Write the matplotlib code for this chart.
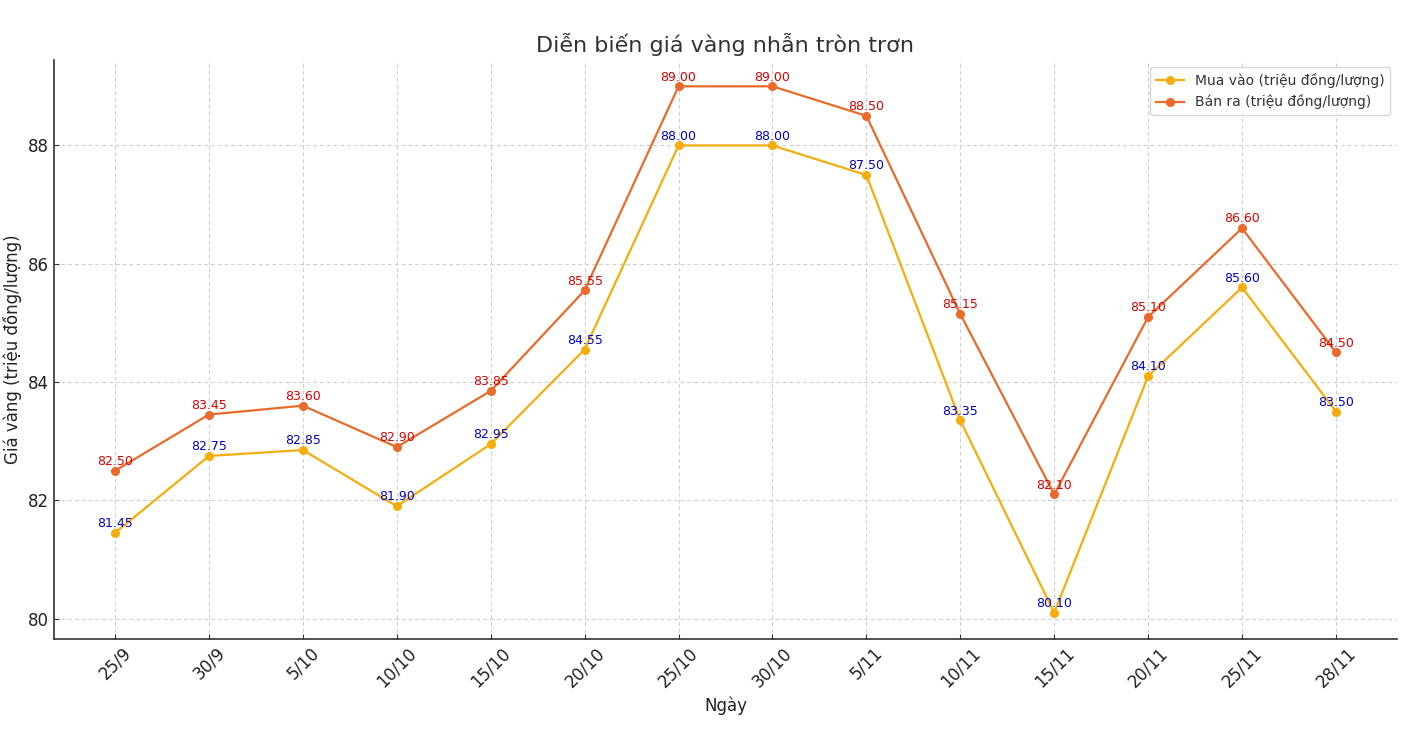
import matplotlib
matplotlib.use("Agg")
import matplotlib.pyplot as plt

dates = ["25/9", "30/9", "5/10", "10/10", "15/10", "20/10", "25/10", "30/10",
         "5/11", "10/11", "15/11", "20/11", "25/11", "28/11"]
buy = [81.45, 82.75, 82.85, 81.90, 82.95, 84.55, 88.00, 88.00, 87.50, 83.35, 80.10, 84.10, 85.60, 83.50]
sell = [82.50, 83.45, 83.60, 82.90, 83.85, 85.55, 89.00, 89.00, 88.50, 85.15, 82.10, 85.10, 86.60, 84.50]

plt.rcParams['text.color'] = '#333333'
fig = plt.figure(figsize=(14.02, 7.55), dpi=100)
ax = fig.add_axes([54/1402, 1 - 639/755, (1397-54)/1402, (639-60)/755])

x = list(range(len(dates)))
ax.plot(x, buy, marker='o', markersize=5.5, color='#F5AD0D', linewidth=1.6,
        label='Mua vào (triệu đồng/lượng)')
ax.plot(x, sell, marker='o', markersize=5.5, color='#EA6A2A', linewidth=1.6,
        label='Bán ra (triệu đồng/lượng)')

for xi, v in zip(x, buy):
    ax.annotate(f"{v:.2f}", (xi, v), textcoords='offset points', xytext=(0, 2),
                ha='center', va='bottom', fontsize=9, color='#0000CC')
for xi, v in zip(x, sell):
    ax.annotate(f"{v:.2f}", (xi, v), textcoords='offset points', xytext=(0, 2),
                ha='center', va='bottom', fontsize=9, color='#DD0000')

ax.set_xticks(x)
ax.set_xticklabels(dates, rotation=45, fontsize=12)
ax.set_yticks([80, 82, 84, 86, 88])
ax.tick_params(axis='y', labelsize=12)
ax.tick_params(direction='in', colors='#333333')
for lab in ax.get_xticklabels() + ax.get_yticklabels():
    lab.set_color('#222222')
ax.grid(True, linestyle=(0, (4, 3)), color='#cccccc', linewidth=0.7)
ax.spines['top'].set_visible(False)
ax.spines['right'].set_visible(False)
ax.spines['left'].set_color('#333333')
ax.spines['bottom'].set_color('#333333')
ax.spines['left'].set_linewidth(1.2)
ax.spines['bottom'].set_linewidth(1.2)

ax.set_title('Diễn biến giá vàng nhẫn tròn trơn', fontsize=16, color='#333333', pad=6)
ax.set_xlabel('Ngày', fontsize=12, color='#222222')
ax.set_ylabel('Giá vàng (triệu đồng/lượng)', fontsize=12, color='#222222')
ax.legend(loc='upper right', fontsize=10)

fig.savefig('out.png', dpi=100)
